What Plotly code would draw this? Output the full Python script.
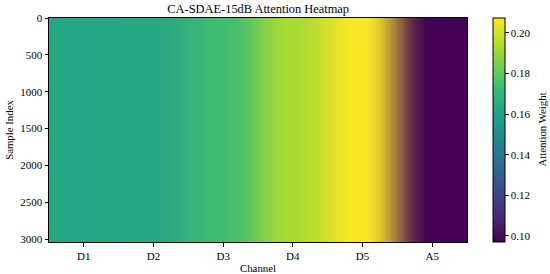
import numpy as np
import plotly.graph_objects as go
from plotly.colors import sample_colorscale, unlabel_rgb

# channel attention weights (same for every sample)
channels = ["D1", "D2", "D3", "D4", "D5", "A5"]
attention = [0.162, 0.163, 0.173, 0.193, 0.2073, 0.097]
n_samples = 3040
y_ticks = [0, 500, 1000, 1500, 2000, 2500, 3000]
cbar_ticks = [0.10, 0.12, 0.14, 0.16, 0.18, 0.20]

FONT = "Liberation Serif"

# colours of each channel through the viridis scale
vmin, vmax = min(attention), max(attention)
norm = [(a - vmin) / (vmax - vmin) for a in attention]
rgb = np.array([unlabel_rgb(c) for c in sample_colorscale("Viridis", norm)], dtype=float)

# smooth rendering like matplotlib imshow (blend colours between channel centres)
W = 600
dx = len(channels) / W
u = -0.5 + (np.arange(W) + 0.5) * dx
i0 = np.clip(np.floor(u).astype(int), 0, len(channels) - 2)
d = np.clip(u - i0, 0, 1)
wr = 0.5 - 0.5 * np.cos(np.pi * d)
img = rgb[i0] * (1 - wr)[:, None] + rgb[i0 + 1] * wr[:, None]
img = np.round(img).astype(int)
img_rows = [img.tolist(), img.tolist()]

fig = go.Figure()

# heatmap holds the data + colorbar, the image on top gives the smooth look
fig.add_trace(go.Heatmap(
    z=[attention], x=list(range(len(channels))),
    y0=(n_samples - 1) / 2, dy=n_samples,
    colorscale="Viridis", zmin=vmin, zmax=vmax, opacity=0,
    colorbar=dict(
        x=1.062, xanchor="left", xpad=0, ypad=0,
        y=0.5, yanchor="middle", len=1, lenmode="fraction",
        thickness=11.7, outlinewidth=1, outlinecolor="black",
        tickvals=cbar_ticks, tickformat=".2f",
        ticks="outside", ticklen=3.5, tickwidth=0.8, tickcolor="black",
        tickfont=dict(family=FONT, size=11, color="black"),
    ),
    hoverinfo="skip",
))

fig.add_trace(go.Image(
    z=img_rows, colormodel="rgb",
    x0=-0.5 + dx / 2, dx=dx,
    y0=n_samples / 4 - 0.5, dy=n_samples / 2,
    hoverinfo="skip",
))

axis_common = dict(
    showline=True, mirror=True, linecolor="black", linewidth=1,
    ticks="outside", ticklen=3.5, tickwidth=0.8, tickcolor="black",
    showgrid=False, zeroline=False, scaleanchor=False, automargin=False,
    tickfont=dict(family=FONT, size=11, color="black"),
)

fig.update_layout(
    template="none",
    width=550, height=274,
    margin=dict(l=48.5, r=82.7, t=17.7, b=31.7),
    paper_bgcolor="white", plot_bgcolor="white",
    font=dict(family=FONT, size=11, color="black"),
    title=dict(text="CA-SDAE-15dB Attention Heatmap", x=0.4695, xanchor="center",
               y=1 - 9 / 274, yanchor="middle",
               font=dict(family=FONT, size=12.4, color="black")),
    xaxis=dict(axis_common, range=[-0.5, len(channels) - 0.5],
               tickvals=list(range(len(channels))), ticktext=channels,
               title=dict(text="Channel", standoff=3,
                          font=dict(family=FONT, size=10.8, color="black"))),
    yaxis=dict(axis_common, range=[n_samples - 0.5, -0.5], autorange=False,
               tickvals=y_ticks,
               title=dict(text="Sample Index", standoff=4,
                          font=dict(family=FONT, size=10.8, color="black"))),
    annotations=[dict(text="Attention Weight", textangle=-90,
                      xref="paper", yref="paper", x=(542 - 48.5) / 418.8, y=0.5,
                      xanchor="center", yanchor="middle", showarrow=False,
                      font=dict(family=FONT, size=10.8, color="black"))],
)

fig.write_html("out.html", config={"displayModeBar": False},
               post_script="document.body.style.margin='0';")
